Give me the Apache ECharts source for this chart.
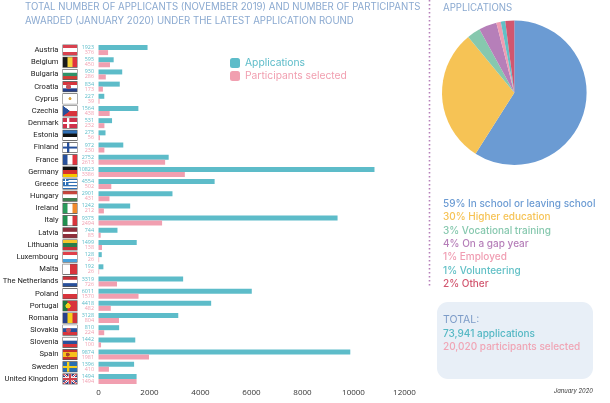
<!DOCTYPE html>
<html>
<head>
<meta charset="utf-8">
<title>Applicants and participants</title>
<script src="https://cdn.jsdelivr.net/npm/echarts@6/dist/echarts.min.js"></script>
<style>
html, body { margin: 0; padding: 0; background: #fff; }
#chart { width: 610px; height: 403px; }
</style>
</head>
<body>
<div id="chart"></div>
<script>
// Chart data
var countries = ['Austria', 'Belgium', 'Bulgaria', 'Croatia', 'Cyprus', 'Czechia', 'Denmark', 'Estonia', 'Finland', 'France', 'Germany', 'Greece', 'Hungary', 'Ireland', 'Italy', 'Latvia', 'Lithuania', 'Luxembourg', 'Malta', 'The Netherlands', 'Poland', 'Portugal', 'Romania', 'Slovakia', 'Slovenia', 'Spain', 'Sweden', 'United Kingdom'];
var applications = [1923, 595, 930, 834, 227, 1564, 531, 275, 972, 2752, 10823, 4554, 2901, 1242, 9375, 744, 1499, 128, 192, 3319, 6011, 4418, 3128, 810, 1442, 9874, 1396, 1494];
var participants = [376, 450, 286, 173, 39, 438, 232, 56, 230, 2613, 3386, 502, 431, 212, 2494, 85, 138, 26, 26, 726, 1570, 482, 804, 224, 100, 1981, 410, 1494];
var xTicks = [0, 2000, 4000, 6000, 8000, 10000, 12000];

var profileNames = ['In school or leaving school', 'Higher education', 'Vocational training', 'On a gap year', 'Employed', 'Volunteering', 'Other'];
var profileShares = [59, 30, 3, 4, 1, 1, 2];
var profileColors = ['#6b9bd3', '#f6c355', '#86c8ae', '#b67fb9', '#f09db2', '#62c0c6', '#d2566f'];

var titleLines = ['TOTAL NUMBER OF APPLICANTS (NOVEMBER 2019) AND NUMBER OF PARTICIPANTS', 'AWARDED (JANUARY 2020) UNDER THE LATEST APPLICATION ROUND'];

// Flags: stripes, then optional extra mark
var flags = {
    'Austria': { h: ['#d8404e', '#fff', '#d8404e'] },
    'Belgium': { v: ['#1a1a1a', '#f6d33c', '#e0343f'] },
    'Bulgaria': { h: ['#fff', '#2f9268', '#d33c34'] },
    'Croatia': { h: ['#d8343c', '#fff', '#27408b'], mark: 'shield' },
    'Cyprus': { h: ['#fff'], mark: 'cyprus' },
    'Czechia': { h: ['#fff', '#d8343c'], mark: 'wedge' },
    'Denmark': { h: ['#d0314a'], mark: 'crossWhite' },
    'Estonia': { h: ['#2f6fb5', '#111', '#fff'] },
    'Finland': { h: ['#fff'], mark: 'crossBlue' },
    'France': { v: ['#27509b', '#fff', '#e0343f'] },
    'Germany': { h: ['#111', '#d8302c', '#f6c700'] },
    'Greece': { h: ['#2f6fb5', '#fff', '#2f6fb5', '#fff', '#2f6fb5', '#fff', '#2f6fb5'], mark: 'greece' },
    'Hungary': { h: ['#c8453c', '#fff', '#3f7f4f'] },
    'Ireland': { v: ['#2a9a5b', '#fff', '#f08a2c'] },
    'Italy': { v: ['#1f8f4f', '#fff', '#d8343c'] },
    'Latvia': { h: ['#8e2f3c', '#8e2f3c', '#fff', '#8e2f3c', '#8e2f3c'] },
    'Lithuania': { h: ['#f6c62c', '#2a7d4a', '#c8323a'] },
    'Luxembourg': { h: ['#e0404a', '#fff', '#4aa3dc'] },
    'Malta': { v: ['#fff', '#d8343c'] },
    'The Netherlands': { h: ['#c8323a', '#fff', '#27509b'] },
    'Poland': { h: ['#fff', '#d8343c'] },
    'Portugal': { v: ['#1f7a3f', '#d8343c', '#d8343c'], mark: 'portugal' },
    'Romania': { v: ['#27408b', '#f6d01c', '#d0313a'] },
    'Slovakia': { h: ['#fff', '#27509b', '#d8343c'], mark: 'shield' },
    'Slovenia': { h: ['#fff', '#27509b', '#d8343c'] },
    'Spain': { h: ['#c8302c', '#f6c01c', '#f6c01c', '#c8302c'], mark: 'spain' },
    'Sweden': { h: ['#2a6fb0'], mark: 'crossYellow' },
    'United Kingdom': { h: ['#2f3f80'], mark: 'union' }
};

// Draw one flag on a small canvas, used as a rich text background
function makeFlag(spec) {
    var s = 4, w = 15 * s, h = 11 * s;
    var canvas = document.createElement('canvas');
    canvas.width = w;
    canvas.height = h;
    var c = canvas.getContext('2d');
    var i;
    if (spec.h) {
        for (i = 0; i < spec.h.length; i++) {
            c.fillStyle = spec.h[i];
            c.fillRect(0, i * h / spec.h.length, w, h / spec.h.length + 1);
        }
    }
    if (spec.v) {
        for (i = 0; i < spec.v.length; i++) {
            c.fillStyle = spec.v[i];
            c.fillRect(i * w / spec.v.length, 0, w / spec.v.length + 1, h);
        }
    }
    function cross(color) {
        c.fillStyle = color;
        c.fillRect(w * 0.3, 0, w * 0.16, h);
        c.fillRect(0, h * 0.41, w, h * 0.18);
    }
    function dot(color, x, y, r) {
        c.fillStyle = color;
        c.beginPath();
        c.arc(x * w, y * h, r * h, 0, Math.PI * 2);
        c.fill();
    }
    if (spec.mark === 'crossWhite') cross('#fff');
    if (spec.mark === 'crossBlue') cross('#27509b');
    if (spec.mark === 'crossYellow') cross('#f6d01c');
    if (spec.mark === 'shield') dot('#c8505a', 0.4, 0.5, 0.22);
    if (spec.mark === 'cyprus') dot('#d9a441', 0.5, 0.5, 0.14);
    if (spec.mark === 'portugal') dot('#f6d01c', 0.37, 0.5, 0.24);
    if (spec.mark === 'spain') dot('#a8442c', 0.35, 0.5, 0.18);
    if (spec.mark === 'wedge') {
        c.fillStyle = '#27509b';
        c.beginPath();
        c.moveTo(0, 0);
        c.lineTo(w * 0.5, h * 0.5);
        c.lineTo(0, h);
        c.fill();
    }
    if (spec.mark === 'greece') {
        c.fillStyle = '#2f6fb5';
        c.fillRect(0, 0, w * 0.4, h * 4 / 7);
        c.fillStyle = '#fff';
        c.fillRect(w * 0.16, 0, w * 0.08, h * 4 / 7);
        c.fillRect(0, h * 0.22, w * 0.4, h * 0.12);
    }
    if (spec.mark === 'union') {
        c.strokeStyle = '#fff';
        c.lineWidth = h * 0.18;
        c.beginPath();
        c.moveTo(0, 0); c.lineTo(w, h);
        c.moveTo(w, 0); c.lineTo(0, h);
        c.stroke();
        c.strokeStyle = '#d0404a';
        c.lineWidth = h * 0.08;
        c.stroke();
        c.fillStyle = '#fff';
        c.fillRect(w * 0.4, 0, w * 0.2, h);
        c.fillRect(0, h * 0.36, w, h * 0.28);
        c.fillStyle = '#d0404a';
        c.fillRect(w * 0.45, 0, w * 0.1, h);
        c.fillRect(0, h * 0.43, w, h * 0.14);
    }
    c.strokeStyle = '#555';
    c.lineWidth = 3;
    c.strokeRect(1, 1, w - 2, h - 2);
    return canvas;
}

var richLabels = {
    name: { color: '#222', fontSize: 7.6, fontFamily: 'Roboto', padding: [0, 4, 0, 0] }
};
countries.forEach(function(name, i) {
    richLabels['flag' + i] = {
        width: 15,
        height: 11,
        backgroundColor: { image: makeFlag(flags[name]) }
    };
});

var line_font = 'Inter, "Noto Sans", sans-serif';

function textItem(str, x, y, color, size, extra) {
    var style = {
        text: str,
        x: x,
        y: y,
        fill: color,
        font: (extra || '') + ' ' + size + 'px ' + line_font,
        textVerticalAlign: 'middle'
    };
    return { type: 'text', silent: true, style: style };
}

var graphics = [];
titleLines.forEach(function(line, i) {
    graphics.push(textItem(line, 25, 7.5 + i * 14, '#8aa9d0', 9.65));
});
graphics.push(textItem('APPLICATIONS', 443, 8, '#8aa9d0', 9.65));
graphics.push({
    type: 'line', silent: true,
    shape: { x1: 429.5, y1: 0, x2: 429.5, y2: 288 },
    style: { stroke: '#b67fb9', lineWidth: 1.6, lineDash: [1.6, 2.4] }
});
profileNames.forEach(function(name, i) {
    var label = profileShares[i] + '% ' + name;
    graphics.push(textItem(label, 443, 204 + i * 13.3, profileColors[i], 10, '500'));
});
graphics.push({
    type: 'rect', silent: true, z: -1,
    shape: { x: 437, y: 302, width: 156, height: 77, r: 11 },
    style: { fill: '#e8eff7' }
});
graphics.push(textItem('TOTAL:', 443, 320, '#7d9cc8', 10.5));
graphics.push(textItem('73,941 applications', 443, 334, '#55b8c4', 10, '500'));
graphics.push(textItem('20,020 participants selected', 443, 347, '#f0a5b5', 10, '500'));
graphics.push(textItem('January 2020', 554, 391, '#333', 5.8, 'italic'));

function valueLabel(color) {
    return {
        show: true,
        position: 'left',
        distance: 4.5,
        color: color,
        fontSize: 5.4,
        fontFamily: 'Open Sans'
    };
}

var chart = echarts.init(document.getElementById('chart'), null, { renderer: 'canvas' });

chart.setOption({
    animation: false,
    backgroundColor: '#fff',
    textStyle: { fontFamily: line_font },

    grid: { left: 98.5, width: 306, top: 44, height: 341, containLabel: false, outerBoundsMode: 'none' },

    legend: {
        left: 230,
        top: 58,
        padding: 0,
        orient: 'vertical',
        itemWidth: 10,
        itemHeight: 10,
        itemGap: 3,
        selectedMode: false,
        data: [
            { name: 'Applications', itemStyle: { color: '#5dbcc9' }, textStyle: { color: '#5dbcc9', fontSize: 10.3 } },
            { name: 'Participants selected', itemStyle: { color: '#f19fb0' }, textStyle: { color: '#f19fb0', fontSize: 10.3 } }
        ]
    },

    xAxis: {
        type: 'value',
        min: xTicks[0],
        max: xTicks[xTicks.length - 1],
        interval: xTicks[1],
        axisLine: { show: false },
        axisTick: { show: false },
        splitLine: { show: false },
        axisLabel: {
            color: '#333',
            fontSize: 8,
            margin: 4,
            fontFamily: 'Open Sans',
            formatter: function(value) { return String(value); }
        }
    },

    yAxis: {
        type: 'category',
        inverse: true,
        data: countries,
        axisLine: { show: false },
        axisTick: { show: false },
        axisLabel: {
            margin: 21,
            interval: 0,
            formatter: function(value, index) {
                return '{name|' + value + '}{flag' + index + '|}';
            },
            rich: richLabels
        }
    },

    series: [
        {
            name: 'Applications',
            type: 'bar',
            data: applications,
            barWidth: 5,
            barGap: 0,
            silent: true,
            itemStyle: { color: '#5dbcc9' },
            label: valueLabel('#5dbcc9')
        },
        {
            name: 'Participants selected',
            type: 'bar',
            data: participants,
            barWidth: 5,
            barGap: 0,
            silent: true,
            itemStyle: { color: '#f19fb0' },
            label: valueLabel('#f19fb0')
        },
        {
            type: 'pie',
            center: [514.3, 92.7],
            radius: [0, 72.3],
            silent: true,
            label: { show: false },
            labelLine: { show: false },
            data: profileNames.map(function(name, i) {
                return { name: name, value: profileShares[i], itemStyle: { color: profileColors[i] } };
            })
        }
    ],

    graphic: graphics
});
</script>
</body>
</html>
